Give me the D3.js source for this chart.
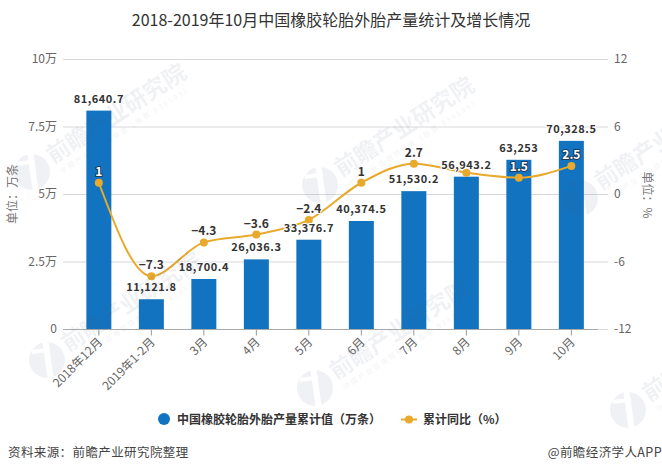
<!DOCTYPE html>
<html>
<head>
<meta charset="utf-8">
<script src="https://cdn.jsdelivr.net/npm/d3@7/dist/d3.min.js"></script>
<style>
	html,body{margin:0;padding:0;background:#fff;}
	svg{display:block;}
	text{font-family:"Noto Sans CJK SC","Noto Sans",sans-serif;}
</style>
</head>
<body>
<div id="chart"></div>
<script>
var categories=["2018年12月","2019年1-2月","3月","4月","5月","6月","7月","8月","9月","10月"];
var output=[81640.7,11121.8,18700.4,26036.3,33376.7,40374.5,51530.2,56943.2,63253,70328.5];
var growth=[1,-7.3,-4.3,-3.6,-2.3,1,2.7,1.9,1.45,2.5];
var outputTicks=[0,25000,50000,75000,100000];
var outputTickLabels=["0","2.5万","5万","7.5万","10万"];
var growthTicks=[-12,-6,0,6,12];
var outputLabels=["81,640.7","11,121.8","18,700.4","26,036.3","33,376.7","40,374.5","51,530.2","56,943.2","63,253","70,328.5"];
var growthLabels=["1","−7.3","−4.3","−3.6","−2.4","1","2.7","","1.5","2.5"];
var watermarks=[[32,172],[320,185],[47,360],[315,388],[580,198],[628,410]];

var w=662,
	h=473,
	blue="#1273c0",
	gold="#e8a92c";

var svg=d3.select("#chart").append("svg")
	.attr("width",w)
	.attr("height",h);

var x=d3.scaleBand()
	.domain(categories)
	.range([72.6,597.6]);
var yLeft=d3.scaleLinear()
	.domain([0,100000])
	.range([329,59]);
var yBar=d3.scaleLinear()
	.domain([0,100000])
	.range([329,61.5]);
var yRight=d3.scaleLinear()
	.domain([-12,12])
	.range([329,59]);

var cx=function(i){return x(categories[i])+x.bandwidth()/2;};

// gridlines
svg.append("g").selectAll("line")
	.data(outputTicks)
	.enter()
	.append("line")
		.attr("x1",63)
		.attr("x2",608)
		.attr("y1",function(d){return yLeft(d)+0.5;})
		.attr("y2",function(d){return yLeft(d)+0.5;})
		.attr("stroke","#d8d8dc");

// left axis labels
var axisLeft=svg.append("g")
	.attr("transform","translate(60,0)")
	.call(d3.axisLeft(yLeft).tickValues(outputTicks).tickSize(0).tickPadding(3)
		.tickFormat(function(d,i){return outputTickLabels[i];}));
axisLeft.select(".domain").remove();
axisLeft.selectAll("text").attr("font-size",12).attr("fill","#666");

// right axis labels
var axisRight=svg.append("g")
	.attr("transform","translate(611,0)")
	.call(d3.axisRight(yRight).tickValues(growthTicks).tickSize(0).tickPadding(3)
		.tickFormat(String));
axisRight.select(".domain").remove();
axisRight.selectAll("text").attr("font-size",12).attr("fill","#666");

// bars
svg.append("g").selectAll("rect")
	.data(output)
	.enter()
	.append("rect")
		.attr("x",function(d,i){return cx(i)-12.5;})
		.attr("y",function(d){return yBar(d);})
		.attr("width",25)
		.attr("height",function(d){return yBar(0)-yBar(d);})
		.attr("fill",blue);

// x axis
var axisBottom=svg.append("g")
	.attr("transform","translate(0,329.5)")
	.call(d3.axisBottom(x).tickSize(6).tickSizeOuter(0).tickPadding(3));
axisBottom.select(".domain")
	.attr("d","M63,0H598")
	.attr("stroke","#aaa");
axisBottom.selectAll("line").attr("stroke","#999");
axisBottom.selectAll("text")
	.attr("font-size",12)
	.attr("fill","#666")
	.attr("text-anchor","end")
	.attr("dy",0)
	.attr("transform","translate(-2,7) rotate(-45)");

// line
var line=d3.line()
	.x(function(d,i){return cx(i);})
	.y(function(d){return yRight(d);})
	.curve(d3.curveMonotoneX);

svg.append("path")
	.attr("d",line(growth))
	.attr("fill","none")
	.attr("stroke",gold)
	.attr("stroke-width",2);

svg.append("g").selectAll("circle")
	.data(growth)
	.enter()
	.append("circle")
		.attr("cx",function(d,i){return cx(i);})
		.attr("cy",function(d){return yRight(d);})
		.attr("r",4)
		.attr("fill",gold);

// data labels
svg.append("g").selectAll("text")
	.data(output)
	.enter()
	.append("text")
		.attr("x",function(d,i){return cx(i);})
		.attr("y",function(d){return yBar(d)-8;})
		.attr("text-anchor","middle")
		.attr("font-size",11)
		.attr("font-weight",700)
		.attr("letter-spacing",0.5)
		.attr("fill","#333")
		.attr("stroke","#fff")
		.attr("stroke-width",2)
		.attr("paint-order","stroke")
		.text(function(d,i){return outputLabels[i];});

svg.append("g").selectAll("text")
	.data(growth)
	.enter()
	.append("text")
		.attr("x",function(d,i){return cx(i);})
		.attr("y",function(d){return yRight(d)-7;})
		.attr("text-anchor","middle")
		.attr("font-size",12)
		.attr("font-weight",700)
		.attr("fill",function(d,i){return (i==0||i==8||i==9)?"#fff":"#333";})
		.attr("stroke",function(d,i){return (i==0||i==8||i==9)?"#1d3c5c":"#fff";})
		.attr("stroke-width",2)
		.attr("paint-order","stroke")
		.text(function(d,i){return growthLabels[i];});

// axis titles
svg.append("text")
	.attr("transform","translate(17,194) rotate(-90)")
	.attr("text-anchor","middle")
	.attr("font-size",12)
	.attr("fill","#777")
	.text("单位：万条");
svg.append("text")
	.attr("transform","translate(643,195) rotate(90)")
	.attr("text-anchor","middle")
	.attr("font-size",12)
	.attr("fill","#777")
	.text("单位：%");

// title
svg.append("text")
	.attr("x",331)
	.attr("y",26)
	.attr("text-anchor","middle")
	.attr("font-size",16)
	.attr("fill","#333")
	.text("2018-2019年10月中国橡胶轮胎外胎产量统计及增长情况");

// legend
var legend=svg.append("g");
legend.append("circle")
	.attr("cx",164)
	.attr("cy",419)
	.attr("r",6)
	.attr("fill",blue);
legend.append("text")
	.attr("x",177)
	.attr("y",423.5)
	.attr("font-size",12)
	.attr("font-weight",700)
	.attr("fill","#333")
	.text("中国橡胶轮胎外胎产量累计值（万条）");
legend.append("line")
	.attr("x1",401)
	.attr("x2",417)
	.attr("y1",419.5)
	.attr("y2",419.5)
	.attr("stroke",gold)
	.attr("stroke-width",2);
legend.append("circle")
	.attr("cx",409)
	.attr("cy",419.5)
	.attr("r",4)
	.attr("fill",gold);
legend.append("text")
	.attr("x",423)
	.attr("y",423.5)
	.attr("font-size",12)
	.attr("font-weight",700)
	.attr("fill","#333")
	.text("累计同比（%）");

// footer
svg.append("text")
	.attr("x",8)
	.attr("y",457)
	.attr("font-size",12.5)
	.attr("letter-spacing",0.4)
	.attr("fill","#444")
	.text("资料来源：前瞻产业研究院整理");
svg.append("text")
	.attr("x",662)
	.attr("y",457)
	.attr("text-anchor","end")
	.attr("font-size",12.5)
	.attr("letter-spacing",0.4)
	.attr("fill","#444")
	.text("@前瞻经济学人APP");

// watermark sits over everything, very faint
var defs=svg.append("defs");
var logoMask=defs.append("mask")
	.attr("id","logo-cut")
	.attr("maskUnits","userSpaceOnUse")
	.attr("x",-25).attr("y",-25)
	.attr("width",50).attr("height",50);
logoMask.append("rect")
	.attr("x",-25).attr("y",-25)
	.attr("width",50).attr("height",50)
	.attr("fill","#fff");
logoMask.append("rect")
	.attr("x",-2).attr("y",-22)
	.attr("width",6).attr("height",44)
	.attr("fill","#000")
	.attr("transform","rotate(25)");
logoMask.append("rect")
	.attr("x",-14).attr("y",-12)
	.attr("width",18).attr("height",4)
	.attr("fill","#000")
	.attr("transform","rotate(25)");

var mark=svg.selectAll("g.mark")
	.data(watermarks)
	.enter()
	.append("g")
		.attr("class","mark")
		.attr("transform",function(d){return "translate("+d[0]+","+d[1]+") rotate(-33)";})
		.attr("fill","#54607a")
		.attr("opacity",0.08);
mark.append("circle")
	.attr("r",18)
	.attr("mask","url(#logo-cut)");
mark.append("text")
	.attr("x",22)
	.attr("y",5)
	.attr("font-size",23)
	.attr("font-weight",700)
	.text("前瞻产业研究院");
mark.append("text")
	.attr("x",24)
	.attr("y",18)
	.attr("font-size",7)
	.attr("letter-spacing",2)
	.text("中国产业咨询领导者（股票 839599）");
</script>
</body>
</html>
